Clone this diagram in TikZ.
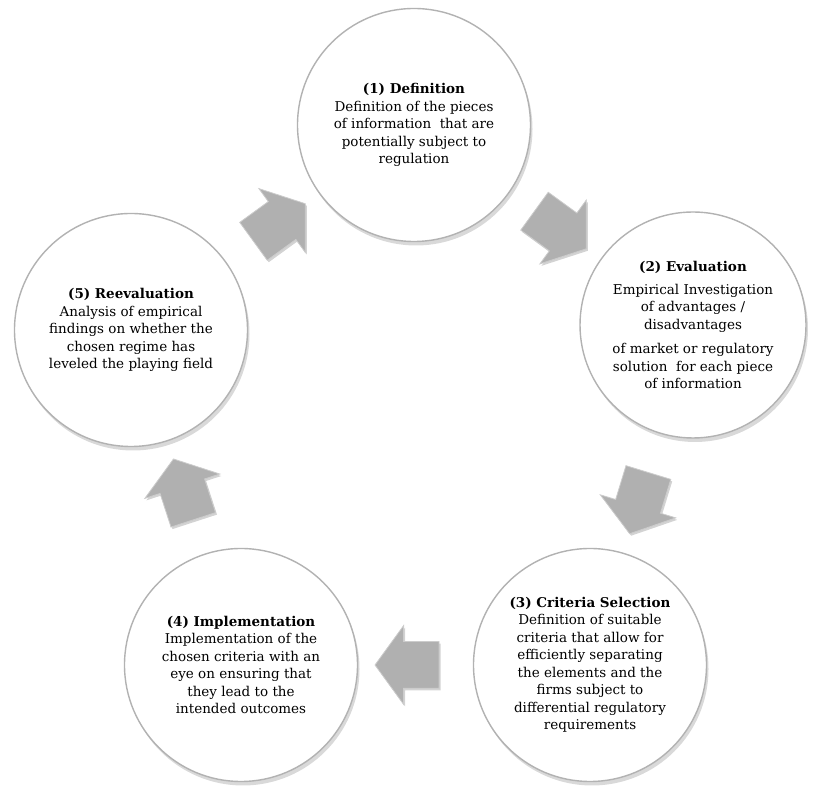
\documentclass[tikz,border=0pt]{standalone}
\usepackage{fontspec}
\setmainfont{DejaVu Serif}
\usetikzlibrary{positioning,calc,shapes.arrows,shadows}

\begin{document}
\begin{tikzpicture}[x=1pt,y=1pt,font=\fontsize{13.5}{17.5}\selectfont]
\tikzset{
  stage/.style={circle,minimum size=233pt,inner sep=0pt,fill=white,draw=gray!60,line width=1.4pt,align=center,
    drop shadow={shadow xshift=2pt,shadow yshift=-4pt,opacity=0.3}},
  flow/.style={single arrow,minimum height=64pt,inner xsep=0pt,inner ysep=23pt,single arrow head extend=16pt,single arrow tip angle=108,
    fill=gray!62,draw=gray!40,line width=0.8pt,drop shadow={shadow xshift=1.5pt,shadow yshift=-2pt,opacity=0.35}}
}
\useasboundingbox (0,0) rectangle (814,786);
\node(c1)[stage] at (414,661){\textbf{(1) Definition}\\Definition of the pieces\\of information~ that are\\potentially subject to\\regulation};
\node(c2)[stage,minimum size=226pt] at (693,461){\textbf{(2) Evaluation}\\[5pt]Empirical Investigation\\of advantages /\\disadvantages\\[7pt]of market or regulatory\\solution~ for each piece\\of information};
\node(c3)[stage] at (590,121){\textbf{(3) Criteria Selection}\\Definition of suitable\\criteria that allow for\\efficiently separating\\the elements and the\\firms subject to\\differential regulatory\\requirements};
\node(c4)[stage] at (241,121){\textbf{(4) Implementation}\\Implementation of the\\chosen criteria with an\\eye on ensuring that\\they lead to the\\intended outcomes};
\node(c5)[stage] at (131,456){\textbf{(5) Reevaluation}\\Analysis of empirical\\findings on whether the\\chosen regime has\\leveled the playing field};
\node(a12)[flow,rotate=-36] at ($(c1)!0.5!(c2)$){};
\node(a23)[flow,rotate=-107] at ($(c2)!0.5!(c3)$){};
\node(a34)[flow,rotate=180] at ($(c3)!0.5!(c4)$){};
\node(a45)[flow,rotate=108] at ($(c4)!0.5!(c5)$){};
\node(a51)[flow,rotate=36] at ($(c5)!0.5!(c1)$){};
\end{tikzpicture}
\end{document}
